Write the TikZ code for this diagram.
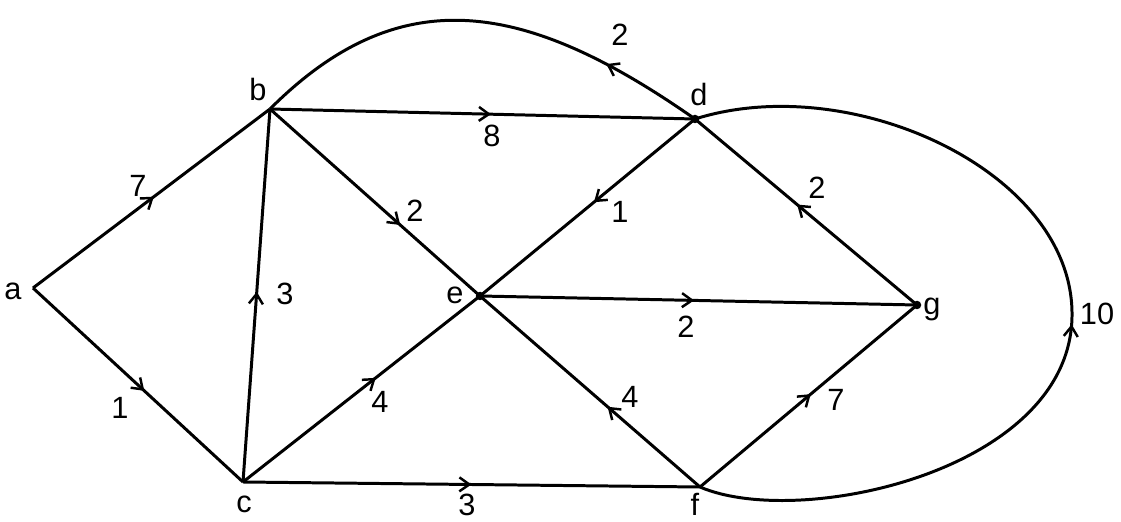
\documentclass[tikz,border=0pt]{standalone}
\usepackage{fontspec}
\setmainfont{Liberation Sans}
\usetikzlibrary{arrows.meta,decorations.markings}

\begin{document}
\begin{tikzpicture}[
    x=0.2mm, y=-0.2mm,
    font=\fontsize{17.5}{19}\selectfont,
    every node/.style={inner sep=1pt},
    edge/.style={line width=1.7pt},
    arr/.style={postaction={decorate},
        decoration={markings,mark=at position #1 with
            {\arrow{Straight Barb[length=2mm,width=2.8mm,line width=1.4pt]}}}},
    dot/.style={circle,fill,inner sep=0pt,minimum size=1.7mm},
]
\useasboundingbox (0,0) rectangle (1121,522);

% ---- vertices ----
\coordinate (a) at (33,288);
\coordinate (b) at (270,109);
\coordinate (c) at (243,482);
\coordinate (d) at (695,119);
\coordinate (e) at (480,296);
\coordinate (f) at (700,487);
\coordinate (g) at (917,305);
\coordinate (t10) at (1072,312);   % right end of the big loop

% ---- straight edges ----
\draw[edge,arr=0.51] (a) -- (b);
\draw[edge,arr=0.53] (a) -- (c);
\draw[edge,arr=0.51] (c) -- (b);
\draw[edge,arr=0.52] (b) -- (d);
\draw[edge,arr=0.62] (b) -- (e);
\draw[edge,arr=0.56] (c) -- (e);
\draw[edge,arr=0.50] (c) -- (f);
\draw[edge,arr=0.47] (d) -- (e);
\draw[edge,arr=0.49] (e) -- (g);
\draw[edge,arr=0.42] (f) -- (e);
\draw[edge,arr=0.51] (f) -- (g);
\draw[edge,arr=0.54] (g) -- (d);

% ---- curved edges ----
\draw[edge,arr=0.22] (d) .. controls (525,0) and (400,-21) .. (b);
\draw[edge,arr=0.48] (f) .. controls (800,530) and (1075,470) .. (t10)
    .. controls (1070,170) and (850,70) .. (d);

% ---- dots ----
\node[dot] (dd) at (d) {};
\node[dot] (de) at (e) {};
\node[dot] (dg) at (g) {};

% ---- vertex labels ----
\node (la) at (13,291) {a};
\node (lb) at (258,90) {b};
\node (lc) at (244,504) {c};
\node (ld) at (699,95) {d};
\node (le) at (455,295) {e};
\node (lf) at (695,504) {f};
\node (lg) at (932,309) {g};

% ---- weights ----
\node (wab) at (138,186) {7};
\node (wac) at (120,408) {1};
\node (wcb) at (285,294) {3};
\node (wbd) at (492,136) {8};
\node (wbe) at (415,211) {2};
\node (wce) at (380,402) {4};
\node (wcf) at (467,505) {3};
\node (wde) at (620,212) {1};
\node (weg) at (686,327) {2};
\node (wfe) at (630,397) {4};
\node (wfg) at (836,400) {7};
\node (wgd) at (817,188) {2};
\node (wdb) at (620,35) {2};
\node (wfd) at (1097,314) {10};
\end{tikzpicture}
\end{document}
